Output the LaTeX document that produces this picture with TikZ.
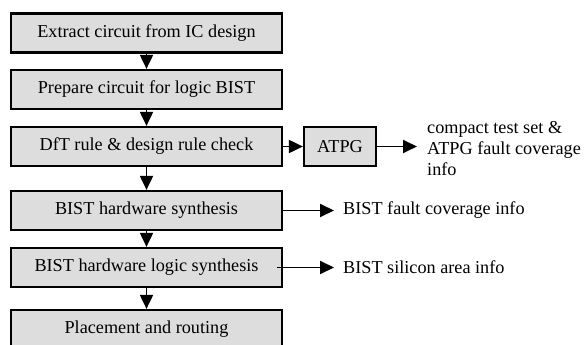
\documentclass[tikz,border=0pt]{standalone}
\usepackage{fontspec}
\setmainfont{Liberation Serif}
\usetikzlibrary{arrows.meta}
\definecolor{boxgray}{RGB}{221,221,221}
\begin{document}
\begin{tikzpicture}[x=1pt,y=-1pt,
  stage/.style={draw=black, line width=2.2pt, fill=boxgray, minimum width=271pt,
    minimum height=39pt, inner sep=0pt, font=\fontsize{18.2}{21}\selectfont},
  smallstage/.style={stage, minimum width=72pt},
  flow/.style={line width=1.9pt, -{Triangle[length=14pt,width=13pt]}},
  info/.style={anchor=west, align=left, inner ysep=0pt, inner xsep=9pt,
    font=\fontsize{18.2}{21}\selectfont}]
  \useasboundingbox (0,0) rectangle (584,345);
  \clip (0,0) rectangle (584,345);

  % main flow of the design steps
  \node[stage] (extract)  at (146.5,33)    {Extract circuit from IC design};
  \node[stage] (prepare)  at (146.5,89.5)  {Prepare circuit for logic BIST};
  \node[stage] (check)    at (146.5,146.5) {DfT rule \& design rule check};
  \node[stage] (hwsynth)  at (146.5,210.5) {BIST hardware synthesis};
  \node[stage] (logsynth) at (146.5,267.5) {BIST hardware logic synthesis};
  \node[stage] (place)    at (146.5,329.5) {Placement and routing};

  % side branch and reports
  \node[smallstage] (atpg) at (340,146.5) {ATPG};
  \node[info, inner xsep=10pt] (cinfo) at (417,149) {compact test set \&\\ATPG fault coverage\\info};
  \node[info] (finfo) at (334,210.5) {BIST fault coverage info};
  \node[info] (ainfo) at (334,267.5) {BIST silicon area info};

  \draw[flow] (extract) -- (prepare);
  \draw[flow] (prepare) -- (check);
  \draw[flow] (check) -- (hwsynth);
  \draw[flow] (hwsynth) -- (logsynth);
  \draw[flow] (logsynth) -- (place);

  \draw[flow] (check.east) -- (atpg.west);
  \draw[flow] (atpg.east) -- (atpg.east -| cinfo.west);
  \draw[flow] (hwsynth.east) -- (finfo.west);
  \draw[flow] ([xshift=-6pt]logsynth.east) -- (ainfo.west);
\end{tikzpicture}
\end{document}
